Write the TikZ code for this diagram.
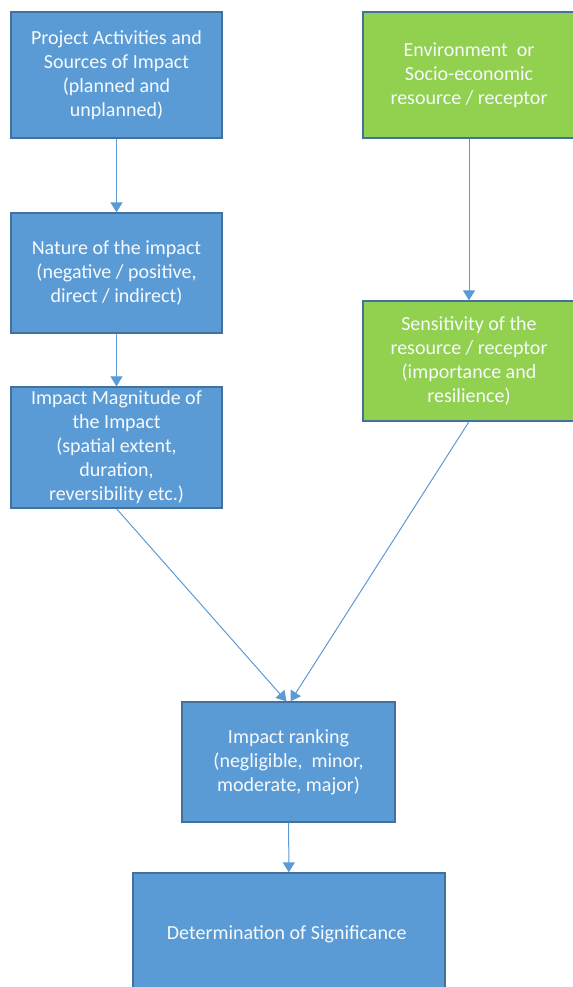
\documentclass[tikz,border=0pt]{standalone}
\usepackage{fontspec}
\setmainfont{Carlito}
\usepackage{tikz}
\usetikzlibrary{positioning, arrows.meta}

\definecolor{boxblue}{HTML}{5B9BD5}
\definecolor{boxgreen}{HTML}{92D050}
\definecolor{boxedge}{HTML}{41719C}

\begin{document}
\begin{tikzpicture}[x = 1bp, y = -1bp,
    every node/.style = { draw = boxedge, line width = 1.3bp, align = center, shape = rectangle,
      text = white!95!boxblue, font = \fontsize{20bp}{24bp}\selectfont, inner sep = 0pt },
    bluebox/.style = { fill = boxblue },
    greenbox/.style = { fill = boxgreen },
    link/.style = { draw = boxblue, line width = 1bp, -{Triangle[width = 12bp, length = 10bp]} }]
  \clip (0,0) rectangle (573,987);
  \useasboundingbox (0,0) rectangle (573,987);
  \node [bluebox, minimum width = 211bp, minimum height = 126bp] (source) at (116.5,75)
    { Project Activities and \\ Sources of Impact \\ (planned and \\ unplanned) };
  \node [greenbox, minimum width = 212bp, minimum height = 126bp] (receptor) at (469,75)
    { Environment \ or \\ Socio-economic \\ resource / receptor };
  \node [bluebox, minimum width = 211bp, minimum height = 120bp] (nature) at (116.5,273)
    { Nature of the impact \\ (negative / positive, \\ direct / indirect) };
  \node [greenbox, minimum width = 212bp, minimum height = 120bp] (sensitivity) at (469,361)
    { Sensitivity of the \\ resource / receptor \\ (importance and \\ resilience) };
  \node [bluebox, minimum width = 211bp, minimum height = 121bp] (magnitude) at (116.5,447.5)
    { Impact Magnitude of \\ the Impact \\ (spatial extent, \\ duration, \\ reversibility etc.) };
  \node [bluebox, minimum width = 213bp, minimum height = 120bp] (ranking) at (288.5,762)
    { Impact ranking \\ (negligible, \ minor, \\ moderate, major) };
  \node [bluebox, minimum width = 312bp, minimum height = 122bp] (significance) at (289,934)
    { Determination of Significance };

  \draw [link] (source) -- (nature);
  \draw [link] (receptor) -- (sensitivity);
  \draw [link] (nature) -- (magnitude);
  \draw [link] (magnitude.south) -- ([xshift = -2bp]ranking.north);
  \draw [link] (sensitivity.south) -- ([xshift = 2bp]ranking.north);
  \draw [link] (ranking) -- (significance);
\end{tikzpicture}
\end{document}
